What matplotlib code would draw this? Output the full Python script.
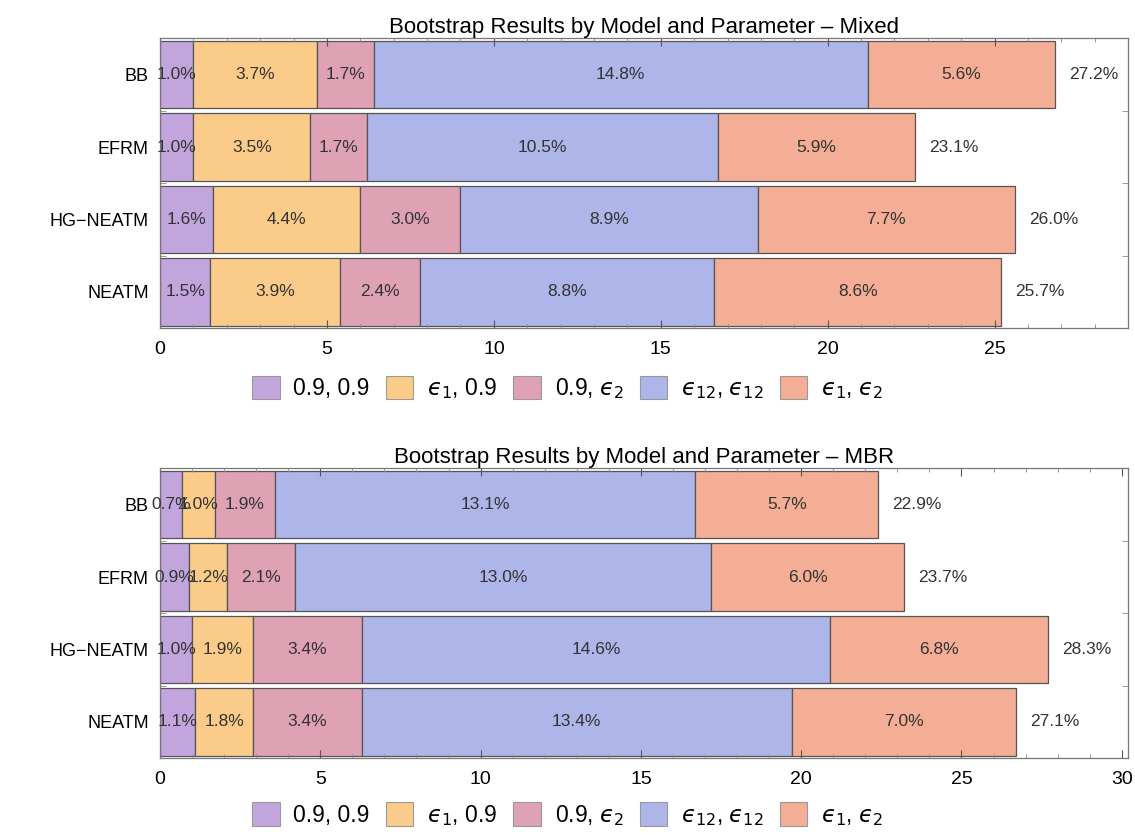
import matplotlib
matplotlib.use("Agg")
import matplotlib.pyplot as plt
from matplotlib.patches import Rectangle
from matplotlib.ticker import MultipleLocator

plt.rcParams['font.family'] = ['Liberation Sans', 'DejaVu Sans']
plt.rcParams['mathtext.fontset'] = 'dejavusans'

models = ["BB", "EFRM", "HG\u2212NEATM", "NEATM"]
E = "\\mathit{\u03f5}"
series_labels = ["0.9, 0.9", f"${E}_1$, 0.9", f"0.9, ${E}_2$",
                 f"${E}_{{12}}$, ${E}_{{12}}$", f"${E}_1$, ${E}_2$"]
colors = ["#C3A5DE", "#FBCB8A", "#DFA1B4", "#AEB5E8", "#F3AE95"]

# Mixed panel
mixed_09_09 = [1.0, 1.0, 1.6, 1.5]
mixed_e1_09 = [3.7, 3.5, 4.4, 3.9]
mixed_09_e2 = [1.7, 1.7, 3.0, 2.4]
mixed_e12_e12 = [14.8, 10.5, 8.9, 8.8]
mixed_e1_e2 = [5.6, 5.9, 7.7, 8.6]
mixed_totals = [27.2, 23.1, 26.0, 25.7]

# MBR panel
mbr_09_09 = [0.7, 0.9, 1.0, 1.1]
mbr_e1_09 = [1.0, 1.2, 1.9, 1.8]
mbr_09_e2 = [1.9, 2.1, 3.4, 3.4]
mbr_e12_e12 = [13.1, 13.0, 14.6, 13.4]
mbr_e1_e2 = [5.7, 6.0, 6.8, 7.0]
mbr_totals = [22.9, 23.7, 28.3, 27.1]

panels = [
    ("Bootstrap Results by Model and Parameter \u2013 Mixed",
     [mixed_09_09, mixed_e1_09, mixed_09_e2, mixed_e12_e12, mixed_e1_e2], mixed_totals,
     29.0, [0, 5, 10, 15, 20, 25]),
    ("Bootstrap Results by Model and Parameter \u2013 MBR",
     [mbr_09_09, mbr_e1_09, mbr_09_e2, mbr_e12_e12, mbr_e1_e2], mbr_totals,
     30.2, [0, 5, 10, 15, 20, 25, 30]),
]

fig = plt.figure(figsize=(11.35, 8.35), dpi=100)
axes_rects = [[0.141, 0.607, 0.853, 0.347], [0.141, 0.092, 0.853, 0.347]]
legend_y = [0.535, 0.024]

for (title, series, totals, xmax, xt), rect, ly in zip(panels, axes_rects, legend_y):
    ax = fig.add_axes(rect)
    ypos = [3, 2, 1, 0]
    left = [0.0] * len(models)
    for vals, col in zip(series, colors):
        ax.barh(ypos, vals, left=left, height=0.93, color=col,
                edgecolor="#555555", linewidth=0.9)
        for y, l, v in zip(ypos, left, vals):
            ax.text(l + v / 2, y, f"{v:.1f}%", ha="center", va="center",
                    fontsize=12.5, color="#333333")
        left = [l + v for l, v in zip(left, vals)]
    for y, l, t in zip(ypos, left, totals):
        ax.annotate(f"{t:.1f}%", (l, y), xytext=(28, 0), textcoords="offset points",
                    ha="center", va="center", fontsize=12.5, color="#333333")
    ax.set_xlim(0, xmax)
    ax.set_ylim(-0.475, 3.475)
    ax.set_xticks(xt)
    ax.xaxis.set_minor_locator(MultipleLocator(1))
    ax.set_yticks(ypos)
    ax.set_yticklabels(models, fontsize=13)
    ax.set_yticks([-0.5, 0.5, 1.5, 2.5, 3.5], minor=True)
    ax.tick_params(axis="x", which="major", direction="in", top=True, length=6,
                   labelsize=14, color="#555555", pad=9)
    ax.tick_params(axis="x", which="minor", direction="in", top=True, length=3, color="#888888")
    ax.tick_params(axis="y", which="major", direction="in", right=True, length=0, pad=8)
    ax.tick_params(axis="y", which="minor", direction="in", right=True, length=4, color="#888888")
    for s in ax.spines.values():
        s.set_color("#777777")
        s.set_linewidth(0.9)
    ax.set_title(title, fontsize=16, pad=2)
    handles = [Rectangle((0, 0), 1, 1, facecolor=c, edgecolor="#999999", linewidth=0.8)
               for c in colors]
    fig.legend(handles, series_labels, loc="center", bbox_to_anchor=(0.5, ly),
               ncol=5, frameon=False, fontsize=16.5, handlelength=1.2, handleheight=1.2,
               handletextpad=0.6, columnspacing=0.7)

fig.savefig("out.png", dpi=100)
